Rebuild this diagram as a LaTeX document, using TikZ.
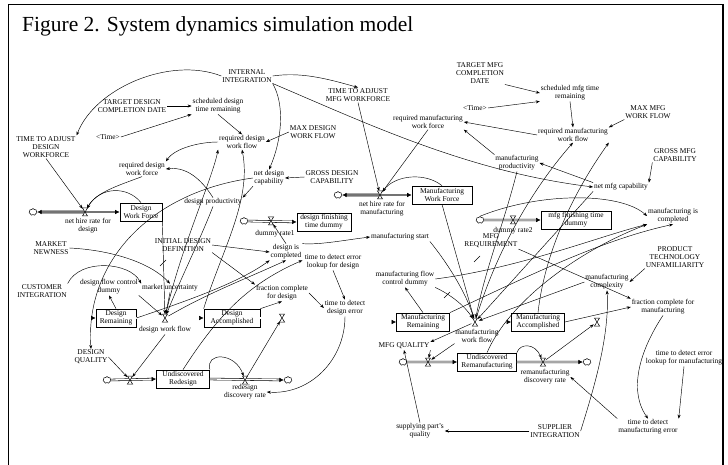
\documentclass[tikz,border=0pt]{standalone}
\usepackage{fontspec}
\setmainfont{Liberation Serif}
\usetikzlibrary{arrows.meta,shapes.symbols}
\begin{document}
\begin{tikzpicture}[x=1pt,y=-1pt,
  lbl/.style={font=\fontsize{7.4}{8}\selectfont, align=center, inner sep=0.8pt},
  stock/.style={draw, line width=0.7pt, fill=white, font=\fontsize{7.4}{8}\selectfont, align=center, inner sep=1pt, minimum height=18pt},
  cloudn/.style={cloud, cloud puffs=7, draw, fill=white, minimum width=8pt, minimum height=7pt, inner sep=0pt, line width=0.5pt},
  ar/.style={-{Stealth[length=4pt,width=3pt]}, line width=0.45pt},
  pipe/.style={draw, line width=0.55pt, double=white, double distance=1.3pt},
  hpipe/.style={draw, line width=0.6pt, double=black!55, double distance=1.6pt},
  tip/.style={-{Latex[length=4.5pt,width=4.5pt]}},
  valve/.pic={\draw[fill=white, line width=0.5pt] (-2.6,-4)--(2.6,-4)--(-2.6,4)--(2.6,4)--cycle;}
]
\useasboundingbox (0,0) rectangle (728,465);
\fill[white] (0,0) rectangle (728,465);
% frame and title
\draw[line width=0.8pt] (8,465) -- (8,4) -- (723,4);
\draw[line width=1.3pt] (723,4) -- (723,465);
\node[anchor=base west, font=\fontsize{21.5}{24}\selectfont, inner sep=0] (title) at (22,32) {Figure 2. System dynamics simulation model};

% ---------------- design side: labels ----------------
\node[lbl] (ii) at (247,76) {INTERNAL\\INTEGRATION};
\node[lbl] (tamw) at (358,95) {TIME TO ADJUST\\MFG WORKFORCE};
\node[lbl] (tdcd) at (132,106) {TARGET DESIGN\\COMPLETION DATE};
\node[lbl] (sdtr) at (218,106) {scheduled design\\time remaining};
\node[lbl] (time1) at (108,137) {\textless Time\textgreater};
\node[lbl] (tadw) at (46,147) {TIME TO ADJUST\\DESIGN\\WORKFORCE};
\node[lbl] (rdwf) at (242,142) {required design\\work flow};
\node[lbl] (mdwf) at (313,132) {MAX DESIGN\\WORK FLOW};
\node[lbl] (rdwfo) at (142,169) {required design\\work force};
\node[lbl] (ndc) at (269,178) {net design\\capability};
\node[lbl] (gdc) at (332,177) {GROSS DESIGN\\CAPABILITY};
\node[lbl] (dp) at (213,202) {design productivity};
\node[lbl] (nhd) at (88,226) {net hire rate for\\design};
\node[lbl] (dr1) at (275,234) {dummy rate1};
\node[lbl] (idd) at (183,245) {INITIAL DESIGN\\DEFINITION};
\node[lbl] (dic) at (286,252) {design is\\completed};
\node[lbl] (tdeld) at (333,262) {time to detect error\\lookup for design};
\node[lbl] (mn) at (51,248) {MARKET\\NEWNESS};
\node[lbl] (ci) at (42,291) {CUSTOMER\\INTEGRATION};
\node[lbl] (dfcd) at (109,287) {design flow control\\dummy};
\node[lbl] (mu) at (170,288) {market uncertainty};
\node[lbl] (fcd) at (282,293) {fraction complete\\for design};
\node[lbl] (tdde) at (345,308) {time to detect\\design error};
\node[lbl] (dwfl) at (165,330) {design work flow};
\node[lbl] (dq) at (91,357) {DESIGN\\QUALITY};
\node[lbl] (rdr) at (245,392) {redesign\\discovery rate};

% ---------------- manufacturing side: labels ----------------
\node[lbl] (tmcd) at (480,73) {TARGET MFG\\COMPLETION\\DATE};
\node[lbl] (smtr) at (570,93) {scheduled mfg time\\remaining};
\node[lbl] (time2) at (475,108) {\textless Time\textgreater};
\node[lbl] (mmwf) at (648,112) {MAX MFG\\WORK FLOW};
\node[lbl] (rmwfo) at (428,122) {required manufacturing\\work force};
\node[lbl] (rmwf) at (573,135) {required manufacturing\\work flow};
\node[lbl] (gmc) at (675,155) {GROSS MFG\\CAPABILITY};
\node[lbl] (mp) at (517,163) {manufacturing\\productivity};
\node[lbl] (nmc) at (621,187) {net mfg capability};
\node[lbl] (nhm) at (382,209) {net hire rate for\\manufacturing};
\node[lbl] (dr2) at (513,231) {dummy rate2};
\node[lbl] (mic) at (673,216) {manufacturing is\\completed};
\node[lbl] (ms) at (400,237) {manufacturing start};
\node[lbl] (mr) at (491,241) {MFG\\REQUIREMENT};
\node[lbl] (ptu) at (675,257) {PRODUCT\\TECHNOLOGY\\UNFAMILIARITY};
\node[lbl] (mfcd) at (405,279) {manufacturing flow\\control dummy};
\node[lbl] (mc) at (607,282) {manufacturing\\complexity};
\node[lbl] (fcm) at (663,307) {fraction complete for\\manufacturing};
\node[lbl] (mwfl) at (477,336) {manufacturing\\work flow};
\node[lbl] (mq) at (404,346) {MFG QUALITY};
\node[lbl] (rmdr) at (545,377) {remanufacturing\\discovery rate};
\node[lbl] (tdelm) at (684,358) {time to detect error\\lookup for manufacturing};
\node[lbl] (tdme) at (648,427) {time to detect\\manufacturing error};
\node[lbl] (sin) at (555,431) {SUPPLIER\\INTEGRATION};
\node[lbl] (spq) at (420,431) {supplying part's\\quality};

% ---------------- stocks, clouds, valve points ----------------
\node[stock, minimum width=42pt] (dwf) at (141,212) {Design\\Work Force};
\node[stock, minimum width=54pt] (dftd) at (324,222) {design finishing\\time dummy};
\node[stock, minimum width=40pt] (dr) at (116,318) {Design\\Remaining};
\node[stock, minimum width=56pt] (da) at (232,318) {Design\\Accomplished};
\node[stock, minimum width=53pt] (ur) at (183,379) {Undiscovered\\Redesign};
\node[stock, minimum width=60pt] (mwf) at (442,195) {Manufacturing\\Work Force};
\node[stock, minimum width=70pt] (mftd) at (576,220) {mfg finishing time\\dummy};
\node[stock, minimum width=53pt] (mrm) at (423,322) {Manufacturing\\Remaining};
\node[stock, minimum width=53pt] (mac) at (538,322) {Manufacturing\\Accomplished};
\node[stock, minimum width=59pt] (urm) at (487,362) {Undiscovered\\Remanufacturing};

\node[cloudn] (c1) at (33,212) {};
\node[cloudn] (c3) at (244,221) {};
\node[cloudn] (c5) at (107,380) {};
\node[cloudn] (c6) at (288,380) {};
\node[cloudn] (c2) at (338,195) {};
\node[cloudn] (c4) at (480,220) {};
\node[cloudn] (c7) at (403,362) {};
\node[cloudn] (c8) at (587,362) {};

\coordinate (v1) at (85,212);
\coordinate (v3) at (271,221);
\coordinate (v5) at (165,318);
\coordinate (v6) at (282,318);
\coordinate (v7) at (130,380);
\coordinate (v8) at (245,380);
\coordinate (v2) at (380,195);
\coordinate (v4) at (513,220);
\coordinate (v9) at (475,322);
\coordinate (v10) at (597,322);
\coordinate (v11) at (428,362);
\coordinate (v12) at (543,362);

% ---------------- pipes ----------------
\draw[hpipe, tip] (v1) -- (dwf.west);
\draw[hpipe, tip] (v1) -- (c1.east);
\draw[hpipe, tip] (v2) -- (mwf.west);
\draw[hpipe, tip] (v2) -- (c2.east);
\draw[pipe, tip] (c3.east) -- (dftd.west);
\draw[pipe, tip] (c4.east) -- (mftd.west);
\draw[pipe] (dr.east) -- (v5);
\draw[pipe, tip] (v5) -- (da.west);
\draw[pipe, tip] (da.east) -- (327,318) -- (327,405) -- (67,405) -- (67,318) -- (dr.west);
\draw[pipe, tip] (c5.east) -- (ur.west);
\draw[pipe, tip] (ur.east) -- (c6.west);
\draw[pipe] (mrm.east) -- (v9);
\draw[pipe, tip] (v9) -- (mac.west);
\draw[pipe, tip] (mac.east) -- (617,322) -- (617,408) -- (365,408) -- (365,322) -- (mrm.west);
\draw[pipe, tip] (c7.east) -- (urm.west);
\draw[pipe, tip] (urm.east) -- (c8.west);

% ---------------- design side: connectors ----------------
\draw[ar] (ii.west) .. controls (170,56) and (95,88) .. (tadw.north east);
\draw[ar] (ii.east) .. controls (300,72) and (325,78) .. (tamw.north);
\draw[ar] (ii.south east) .. controls (285,105) and (282,140) .. (ndc.north);
\draw[ar] (ii.south east) .. controls (370,125) and (470,172) .. (nmc.west);
\draw[ar] (tdcd) -- (sdtr);
\draw[ar] (time1.east) -- (sdtr.south west);
\draw[ar] (sdtr.south) -- (rdwf.north);
\draw[ar] (mdwf.west) -- (rdwf.east);
\draw[ar] (rdwf.west) .. controls (200,142) and (175,148) .. (rdwfo.north east);
\draw[ar] (dp.north) .. controls (205,185) and (190,166) .. (rdwfo.east);
\draw[ar] (ndc.south west) -- (dp.north east);
\draw[ar] (gdc.west) -- (ndc.east);
\draw[ar, shorten >=4pt] (tadw.south) -- (v1);
\draw[ar, shorten >=4pt] (rdwfo.south) .. controls (120,185) and (96,192) .. (v1);
\draw[ar, shorten >=4pt] (dwf.north) .. controls (128,186) and (100,186) .. (v1);
\draw[ar, shorten >=4pt] (dwf.south east) -- (v5);
\draw[ar, shorten >=4pt] (dp.south) .. controls (200,240) and (180,280) .. (v5);
\draw[ar] (da.north west) .. controls (222,250) and (252,200) .. (rdwf.south);
\draw[ar, shorten <=4pt] (v5) .. controls (180,250) and (212,180) .. (rdwf.south west);
\draw[ar] (ndc.west) .. controls (150,192) and (85,262) .. (dq.north);
\draw[ar] (mn.east) .. controls (110,250) and (150,262) .. (mu.north);
\draw[ar] (ci.north east) .. controls (80,258) and (130,262) .. (mu.north west);
\draw[ar] (idd.east) -- (dic.west);
\draw[ar] (idd.south east) -- (fcd.north west);
\draw[ar] (dic.north east) .. controls (320,245) and (345,240) .. (ms.west);
\draw[ar] (tdeld.south) -- (tdde.north);
\draw[ar] (fcd.east) -- (tdde.west);
\draw[ar] (tdde.south) .. controls (345,360) and (310,395) .. (rdr.east);
\draw[ar] (da.north east) -- (fcd.south);
\draw[ar] (dr.east) .. controls (190,300) and (240,282) .. (dic.south west);
\draw[ar, shorten <=4pt] (v5) .. controls (210,292) and (248,278) .. (dic.south);
\draw[ar, shorten >=4pt] (mu.south) -- (v5);
\draw[ar, shorten >=4pt] (dfcd.south east) -- (v5);
\draw[ar] (dr.north) -- (dfcd.south);
\draw[ar, shorten >=4pt] (dwfl.south) -- (v7);
\draw[ar, shorten >=4pt] (dq.east) -- (v7);
\draw[ar, shorten >=4pt] (ur.north east) .. controls (205,352) and (235,352) .. (v8);
\draw[ar, shorten <=4pt, shorten >=4pt] (v8) -- (v6);
\draw[ar] (ur.north) .. controls (215,320) and (245,285) .. (dic.south east);
\draw[ar, shorten >=4pt] (dic.north) -- (v3);

% ---------------- manufacturing side: connectors ----------------
\draw[ar] (tmcd.south east) -- (smtr.west);
\draw[ar] (time2.east) -- (smtr.south west);
\draw[ar] (smtr.south) -- (rmwf.north);
\draw[ar] (mmwf.south west) -- (rmwf.north east);
\draw[ar] (rmwf.west) -- (rmwfo.east);
\draw[ar] (mp.north west) -- (rmwfo.south east);
\draw[ar, shorten >=4pt] (rmwfo.south) -- (v2);
\draw[ar, shorten >=4pt] (tamw.south) -- (v2);
\draw[ar, shorten >=4pt] (mwf.north) .. controls (425,172) and (395,175) .. (v2);
\draw[ar] (nmc.north west) -- (mp.east);
\draw[ar] (gmc.south west) -- (nmc.north east);
\draw[ar, shorten >=4pt] (mwf.south) -- (v9);
\draw[ar, shorten >=4pt] (mp.south) .. controls (505,220) and (485,270) .. (v9);
\draw[ar, shorten >=4pt] (ms.south east) .. controls (445,260) and (465,290) .. (v9);
\draw[ar] (mrm.north) -- (mfcd.south);
\draw[ar, shorten >=4pt] (mfcd.south east) .. controls (445,292) and (462,302) .. (v9);
\draw[ar] (mr.south east) -- (fcm.north west);
\draw[ar] (ptu.south west) -- (mc.east);
\draw[ar, shorten >=4pt] (mc.west) -- (v9);
\draw[ar] (mac.east) -- (fcm.west);
\draw[ar] (sin.east) .. controls (590,400) and (610,340) .. (mc.south);
\draw[ar] (sin.west) -- (spq.east);
\draw[ar] (spq.north) -- (mq.south);
\draw[ar, shorten >=4pt] (mq.south east) -- (v11);
\draw[ar, shorten >=4pt] (mwfl.south west) -- (v11);
\draw[ar, shorten <=4pt] (v9) -- (mq.north east);
\draw[ar, shorten >=4pt] (urm.north east) .. controls (520,343) and (535,343) .. (v12);
\draw[ar, shorten <=4pt, shorten >=4pt] (v12) -- (v10);
\draw[ar] (tdme.north west) -- (rmdr.east);
\draw[ar] (fcm.south) .. controls (640,350) and (628,390) .. (tdme.north);
\draw[ar] (tdelm.south) -- (tdme.north east);
\draw[ar] (urm.north) .. controls (510,300) and (580,250) .. (mic.south west);
\draw[ar, shorten <=4pt] (v9) .. controls (500,240) and (540,180) .. (rmwf.south);
\draw[ar] (mac.north) .. controls (545,250) and (575,190) .. (rmwf.south east);
\draw[ar] (mrm.north east) .. controls (520,280) and (600,240) .. (mic.south);
\draw[ar] (c4.north) .. controls (540,192) and (620,192) .. (mic.west);
\draw[ar] (mfcd.east) .. controls (520,268) and (600,236) .. (mic.south west);
\draw[ar, shorten >=4pt] (nmc.south west) -- (v9);

% small marks on crossing links
\draw[line width=0.4pt] (160,266) -- (166,260);
\draw[line width=0.4pt] (474,262) -- (480,256);
\draw[line width=0.4pt] (444,298) -- (450,292);

% ---------------- valves ----------------
\foreach \v in {v1,v2,v3,v4,v5,v6,v7,v8,v9,v10,v11,v12} \pic at (\v) {valve};
\end{tikzpicture}
\end{document}
